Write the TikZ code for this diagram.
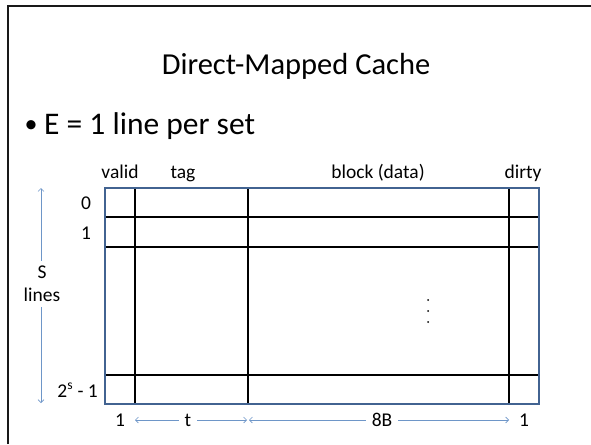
\documentclass[tikz,border=0pt]{standalone}
\usepackage{fontspec}
\setmainfont{Carlito}
\usetikzlibrary{arrows.meta}
\definecolor{frameblue}{RGB}{66,99,145}
\definecolor{dimblue}{RGB}{110,150,200}
\begin{document}
\begin{tikzpicture}[x=1pt,y=-1pt,
  label/.style={inner sep=0pt, anchor=base, font=\fontsize{19.5}{23}\selectfont},
  dimtext/.style={label, inner xsep=6pt},
  gridline/.style={line width=1.5pt, black},
  dimarrow/.style={draw=dimblue, line width=0.6pt, -{Straight Barb[length=3pt,width=6pt]}}]
\useasboundingbox (0,0) rectangle (591,444);
% slide frame
\draw[line width=2pt, black!90] (8,444) -- (8,6) -- (591,6);

% title and bullet
\node (title) at (296,66) {\fontsize{30.5}{34}\selectfont Direct-Mapped Cache};
\node (dot) at (31,127) {\fontsize{26}{30}\selectfont •};
\node[anchor=west, inner sep=0pt] (bullet) at (44,126) {\fontsize{31.5}{36}\selectfont E = 1 line per set};

% cache table
\draw[gridline] (105,217) -- (539,217);
\draw[gridline] (105,247) -- (539,247);
\draw[gridline] (105,375) -- (539,375);
\draw[gridline] (135,188) -- (135,404);
\draw[gridline] (248,188) -- (248,404);
\draw[gridline] (509,188) -- (509,404);
\draw[frameblue, line width=1.5pt] (105,188) rectangle (539,404);
% vertical ellipsis in the data area
\foreach \yy in {300,311,322} \fill (428,\yy) circle (1pt);

% column headings
\node[label] (hvalid) at (120,178) {valid};
\node[label] (htag) at (183,178) {tag};
\node[label] (hblock) at (378,178) {block (data)};
\node[label] (hdirty) at (523,178) {dirty};

% row labels
\node[label] (r0) at (86,209) {0};
\node[label] (r1) at (86,239) {1};
\node[label, anchor=base east] (rlast) at (98,397) {2\textsuperscript{s} - 1};

% number of lines
\node[label, anchor=center, align=center, inner ysep=5pt, font=\fontsize{19.5}{23}\selectfont] (slines) at (42,284) {S\\lines};
\coordinate (stop) at (41,188);
\coordinate (sbot) at (41,403);
\draw[dimarrow] (slines.north -| stop) -- (stop);
\draw[dimarrow] (slines.south -| sbot) -- (sbot);

% field widths
\node[label] (wvalid) at (120,426) {1};
\node[dimtext] (wtag) at (188,426) {t};
\node[dimtext] (wblock) at (382,426) {8B};
\node[label] (wdirty) at (524,426) {1};
\coordinate (c1) at (135,420);
\coordinate (c2) at (247,420);
\coordinate (c3) at (249,420);
\coordinate (c4) at (509,420);
\draw[dimarrow] (wtag.west |- c1) -- (c1);
\draw[dimarrow] (wtag.east |- c2) -- (c2);
\draw[dimarrow] (wblock.west |- c3) -- (c3);
\draw[dimarrow] (wblock.east |- c4) -- (c4);
\end{tikzpicture}
\end{document}
